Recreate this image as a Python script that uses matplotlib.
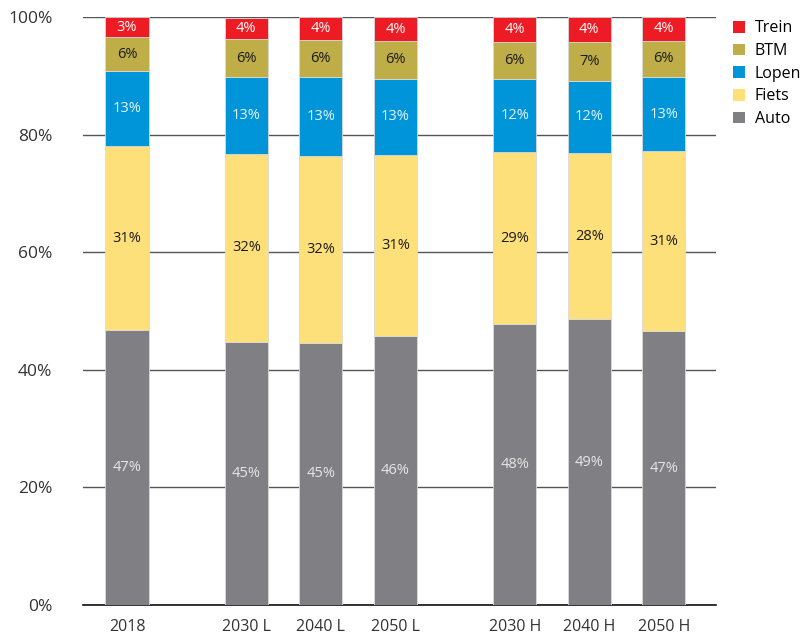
import matplotlib
matplotlib.use("Agg")
import matplotlib.pyplot as plt
from matplotlib.patches import Patch

plt.rcParams['font.family'] = ['Open Sans', 'DejaVu Sans']

# Data (shares in %)
scenarios = ['2018', '2030 L', '2040 L', '2050 L', '2030 H', '2040 H', '2050 H']
positions = [0, 1.6, 2.6, 3.6, 5.2, 6.2, 7.2]

auto = [46.7, 44.8, 44.6, 45.8, 47.8, 48.6, 46.6]
fiets = [31.4, 31.9, 31.8, 30.7, 29.2, 28.3, 30.6]
lopen = [12.7, 13.1, 13.4, 13.0, 12.4, 12.2, 12.6]
btm = [5.8, 6.4, 6.3, 6.4, 6.4, 6.6, 6.2]
trein = [3.4, 3.7, 3.9, 4.1, 4.2, 4.3, 4.0]

series = [
    ('Auto', auto, '#808084', '#e6e6e6'),
    ('Fiets', fiets, '#fde07a', '#1a1a1a'),
    ('Lopen', lopen, '#0095d9', '#e8f4fb'),
    ('BTM', btm, '#bfae48', '#1a1a1a'),
    ('Trein', trein, '#ed1c24', '#ffffff'),
]

fig = plt.figure(figsize=(8.03, 6.35), dpi=100)
ax = fig.add_axes([0.1034, 0.0472, 0.7883, 0.926])

bottom = [0] * len(scenarios)
for name, vals, color, txt_color in series:
    ax.bar(positions, vals, width=0.58, bottom=bottom, color=color,
           edgecolor='#d9d9d9', linewidth=0.6, zorder=3, label=name)
    for x, b, v in zip(positions, bottom, vals):
        ax.text(x, b + v / 2, f"{v:.0f}%", ha='center', va='center',
                fontsize=10.5, color=txt_color, zorder=4)
    bottom = [b + v for b, v in zip(bottom, vals)]

ax.set_xlim(-0.59, 7.9)
ax.set_ylim(0, 100)
ax.set_yticks(range(0, 101, 20))
ax.set_yticklabels([f"{t}%" for t in range(0, 101, 20)], fontsize=12.5, color='#333333')
ax.set_xticks(positions)
ax.set_xticklabels(scenarios, fontsize=11.5, color='#333333')
ax.tick_params(axis='both', length=0)
ax.tick_params(axis='y', pad=22)
ax.tick_params(axis='x', pad=10)

ax.yaxis.grid(True, color='#555555', linewidth=1.0, zorder=0)
ax.set_axisbelow(True)
for side in ['top', 'right', 'left']:
    ax.spines[side].set_visible(False)
ax.spines['bottom'].set_color('#111111')
ax.spines['bottom'].set_linewidth(1.2)

legend_elements = [Patch(facecolor=c, label=n) for n, _, c, _ in reversed(series)]
fig.legend(handles=legend_elements, loc='upper left', bbox_to_anchor=(0.905, 0.978),
           frameon=False, fontsize=11.5, handlelength=0.75, handleheight=0.75,
           handletextpad=0.6, labelspacing=0.42, borderaxespad=0)

fig.savefig('out.png', dpi=100)
